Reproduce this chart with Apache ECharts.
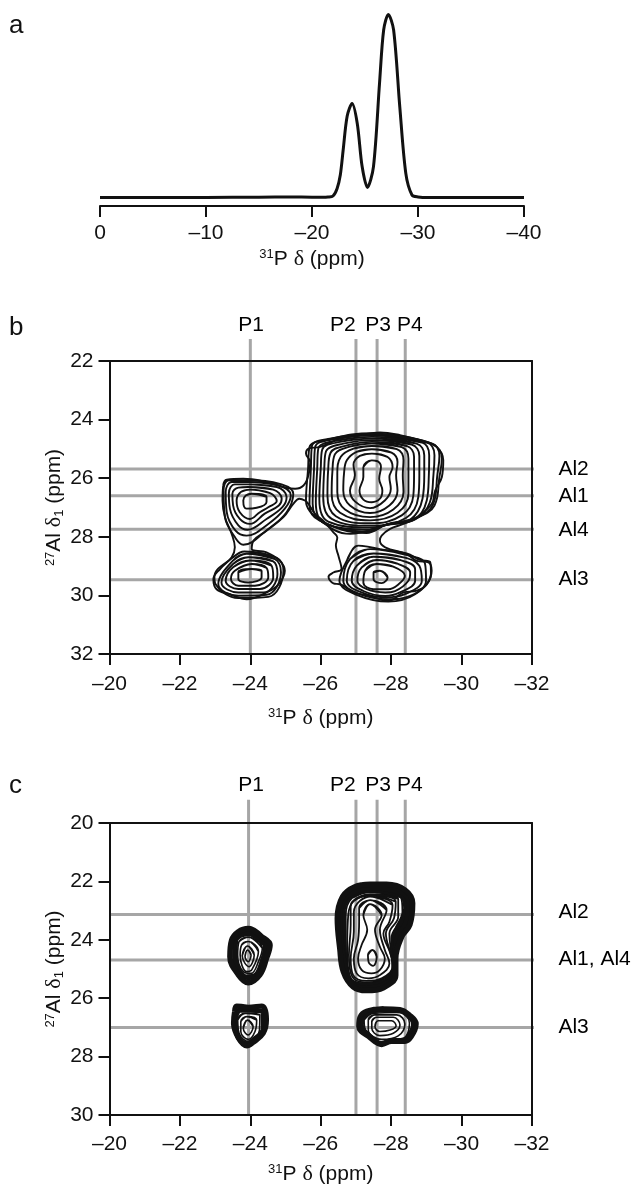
<!DOCTYPE html>
<html><head><meta charset="utf-8">
<style>html,body{margin:0;padding:0;background:#fff}#c{width:633px;height:1184px}</style>
<script src="https://cdn.jsdelivr.net/npm/echarts@6/dist/echarts.min.js"></script>
</head><body><div id="c"></div>
<script>
// Panel a: 1D spectrum
const spectrumPpm = [0,-5,-10,-15,-18,-20,-21,-21.5,-21.98,-22.37,-22.67,-22.94,-23.32,-23.78,-24.27,-24.73,-25.23,-25.8,-26.37,-26.76,-27.2,-27.7,-28.28,-28.85,-29.43,-30,-31,-35,-40];
const spectrumInt = [4.3,4.2,4.3,4.4,4.5,4.4,4.4,4.5,5,8.8,15.5,28,45,51.3,41.3,19.7,9.3,19.7,61.3,88,95.8,88,49.7,16.3,5.5,4.5,4.2,4.3,4.2];

// Panel b reference lines and labels
const bP = [-24,-27,-27.6,-28.4];
const bAl = [25.69,26.6,27.74,29.47];
const bPLabels = [['P1',-24.02],['P2',-26.63],['P3',-27.63],['P4',-28.53]];
const bAlLabels = [['Al2',25.68],['Al1',26.63],['Al4',27.78],['Al3',29.44]];
// Panel c reference lines and labels
const cP = [-23.95,-27,-27.6,-28.4];
const cAl = [23.13,24.69,27.0];
const cPLabels = [['P1',-24.02],['P2',-26.63],['P3',-27.63],['P4',-28.53]];
const cAlLabels = [['Al2',23.05],['Al1, Al4',24.65],['Al3',27.0]];

// Panel b contours, flat x,y pairs in ppm
const bOuter = [[-23.33,26.05,-23.80,26.02,-24.46,26.13,-24.94,26.30,-25.27,26.36,-25.51,26.25,-25.65,25.90,-25.70,25.45,-25.58,25.16,-25.65,24.99,-25.98,24.93,-26.55,24.65,-27.12,24.53,-27.68,24.44,-28.25,24.53,-28.82,24.71,-29.29,24.93,-29.48,25.39,-29.44,25.96,-29.25,26.42,-29.15,26.88,-28.73,27.33,-28.35,27.56,-27.97,27.73,-27.73,27.96,-27.68,28.13,-27.83,28.36,-28.44,28.59,-28.73,28.82,-29.06,28.87,-29.15,29.16,-29.01,29.62,-28.73,29.84,-28.35,29.90,-27.92,30.19,-27.40,30.02,-26.93,29.90,-26.55,29.62,-26.36,29.59,-26.22,29.36,-26.36,29.22,-26.59,29.10,-26.50,28.64,-26.43,28.30,-26.47,28.02,-26.36,27.85,-26.07,27.45,-25.84,27.22,-25.65,26.88,-25.55,26.76,-25.39,26.70,-25.22,26.88,-24.94,27.33,-24.46,27.79,-24.09,28.13,-24.04,28.42,-24.46,28.53,-24.84,28.82,-24.98,29.16,-24.80,29.62,-24.46,29.90,-23.90,30.13,-23.42,29.96,-23.04,29.79,-22.95,29.44,-23.14,29.10,-23.47,28.70,-23.56,28.36,-23.47,27.90,-23.28,27.33,-23.21,26.76,-23.23,26.25]];
const bMain = [
[-27.45,25.39,-27.61,25.42,-27.71,25.62,-27.66,26.02,-27.75,26.42,-27.68,26.70,-27.45,26.82,-27.21,26.73,-27.10,26.42,-27.21,25.96,-27.21,25.62],
[-27.45,25.16,-27.89,25.27,-28.04,25.62,-27.95,25.96,-27.99,26.36,-27.82,26.76,-27.40,27.02,-26.97,26.79,-26.83,26.42,-26.97,25.90,-26.93,25.54,-27.11,25.24],
[-27.45,25.01,-28.01,25.13,-28.18,25.45,-28.14,25.90,-28.18,26.42,-27.95,26.93,-27.40,27.19,-26.83,26.93,-26.64,26.42,-26.66,25.85,-26.74,25.39,-27.02,25.10],
[-27.45,24.90,-28.16,25.01,-28.35,25.39,-28.33,25.90,-28.35,26.47,-28.06,27.07,-27.40,27.33,-26.69,27.07,-26.47,26.47,-26.47,25.85,-26.57,25.27,-26.93,24.99],
[-27.45,24.82,-28.30,24.94,-28.49,25.33,-28.49,25.90,-28.49,26.53,-28.18,27.18,-27.40,27.44,-26.55,27.18,-26.31,26.53,-26.33,25.79,-26.40,25.19,-26.83,24.92],
[-27.45,24.76,-28.44,24.90,-28.65,25.27,-28.65,25.90,-28.63,26.59,-28.30,27.27,-27.40,27.54,-26.43,27.30,-26.19,26.59,-26.21,25.73,-26.28,25.13,-26.74,24.88],
[-27.45,24.70,-28.58,24.85,-28.80,25.24,-28.80,25.90,-28.77,26.65,-28.42,27.36,-27.40,27.62,-26.31,27.39,-26.07,26.65,-26.10,25.67,-26.15,25.08,-26.64,24.82],
[-27.45,24.65,-28.72,24.82,-28.94,25.22,-28.94,25.90,-28.89,26.70,-28.54,27.42,-27.89,27.59,-27.40,27.68,-26.21,27.48,-25.96,26.73,-26.00,25.67,-26.04,25.03,-26.55,24.76],
[-27.45,24.59,-28.87,24.78,-29.08,25.22,-29.07,25.90,-29.01,26.76,-28.63,27.43,-27.89,27.58,-27.40,27.75,-26.12,27.55,-25.86,26.82,-25.90,25.67,-25.93,24.99,-26.45,24.72],
[-27.45,24.54,-29.01,24.78,-29.23,25.22,-29.20,25.90,-29.10,26.82,-28.68,27.41,-27.89,27.57,-27.35,27.82,-26.03,27.48,-25.77,26.87,-25.81,25.67,-25.84,24.94,-26.36,24.67],
[-27.45,24.50,-29.15,24.81,-29.37,25.24,-29.31,25.90,-29.20,26.87,-28.72,27.36,-27.89,27.57,-27.30,27.87,-25.96,27.44,-25.68,26.93,-25.72,25.67,-25.75,24.90,-26.26,24.65],
[-27.45,24.46,-28.25,24.59,-29.20,24.85,-29.44,25.33,-29.37,25.96,-29.23,26.93,-28.74,27.34,-27.89,27.58,-26.83,27.90,-25.96,27.42,-25.58,26.76,-25.64,25.67,-25.68,24.94,-26.17,24.69]
];
const bLowerRight = [
[-27.68,29.16,-27.90,29.39,-27.73,29.58,-27.50,29.45,-27.50,29.22],
[-27.59,28.93,-28.06,29.02,-28.39,29.33,-28.21,29.62,-27.92,29.79,-27.50,29.79,-27.21,29.56,-27.26,29.16],
[-27.59,28.79,-28.16,28.91,-28.54,29.22,-28.49,29.50,-28.11,29.85,-27.83,29.90,-27.31,29.79,-27.04,29.50,-27.16,29.05],
[-27.50,28.68,-28.25,28.79,-28.68,29.10,-28.68,29.50,-28.25,29.90,-27.83,30.02,-27.21,29.85,-26.88,29.50,-27.02,28.99],
[-27.50,28.57,-28.35,28.70,-28.80,28.99,-28.87,29.50,-28.39,29.96,-27.87,30.07,-27.16,29.90,-26.74,29.50,-26.93,28.82],
[-27.40,28.42,-28.39,28.61,-28.96,28.91,-28.99,29.50,-28.54,30.02,-27.92,30.13,-27.07,29.94,-26.64,29.50,-26.83,28.76],
[-27.07,28.30,-27.68,28.42,-28.44,28.57,-28.82,28.79,-29.11,28.87,-29.13,29.27,-28.68,29.96,-27.92,30.21,-27.02,29.98,-26.53,29.50,-26.74,28.82]
];
const bUpperLeft = [
[-24.04,26.53,-24.46,26.64,-24.46,26.81,-24.18,27.01,-23.89,27.04,-23.80,26.76,-23.87,26.59],
[-23.99,26.39,-24.56,26.51,-24.75,26.78,-24.51,26.99,-24.27,27.16,-23.99,27.39,-23.70,27.16,-23.61,26.76,-23.73,26.47],
[-23.94,26.30,-24.65,26.39,-24.89,26.70,-24.81,26.93,-24.41,27.21,-23.99,27.56,-23.70,27.39,-23.51,26.93,-23.49,26.53,-23.66,26.32],
[-23.94,26.21,-24.75,26.30,-25.03,26.64,-24.91,26.99,-24.46,27.39,-23.92,27.76,-23.66,27.61,-23.42,27.04,-23.39,26.51,-23.56,26.21],
[-23.94,26.13,-24.79,26.24,-25.15,26.59,-24.98,27.04,-24.51,27.56,-23.89,27.96,-23.58,27.79,-23.33,27.16,-23.30,26.47,-23.47,26.13],
[-23.94,26.07,-24.89,26.21,-25.22,26.53,-25.03,27.16,-24.51,27.73,-23.80,28.27,-23.56,28.01,-23.28,27.33,-23.24,26.41,-23.39,26.07]
];
const bLowerLeft = [
[-24.04,29.10,-24.32,29.16,-24.32,29.38,-23.94,29.56,-23.66,29.44,-23.66,29.21],
[-24.04,28.93,-24.46,29.06,-24.51,29.38,-24.13,29.67,-23.66,29.67,-23.45,29.44,-23.56,29.16],
[-23.99,28.81,-24.60,28.98,-24.65,29.38,-24.27,29.78,-23.66,29.78,-23.30,29.50,-23.51,29.04],
[-23.94,28.70,-24.65,28.84,-24.77,29.27,-24.37,29.90,-23.66,29.90,-23.18,29.56,-23.51,28.93],
[-23.89,28.58,-24.70,28.76,-24.87,29.21,-24.46,29.98,-23.66,30.01,-23.09,29.61,-23.51,28.81],
[-23.83,28.50,-24.75,28.72,-24.94,29.16,-24.51,30.05,-23.66,30.09,-23.01,29.61,-22.98,29.36,-23.51,28.70]
];

// Panel c contours
const cMain = [
[-27.47,24.35,-27.59,24.58,-27.49,24.89,-27.36,24.77,-27.34,24.52],
[-27.40,22.78,-27.73,23.15,-27.54,23.66,-27.68,24.24,-27.82,24.64,-27.68,25.03,-27.44,25.15,-27.16,25.03,-27.06,24.64,-27.16,24.18,-27.32,23.66,-27.21,23.15],
[-27.40,22.64,-27.87,22.98,-27.68,23.66,-27.82,24.35,-27.95,24.81,-27.68,25.21,-27.35,25.32,-27.02,25.15,-26.94,24.64,-27.06,24.01,-27.09,23.38,-27.09,22.92],
[-27.40,22.52,-28.04,22.81,-27.95,23.38,-27.78,23.78,-27.96,24.41,-28.06,24.86,-27.73,25.32,-27.30,25.41,-26.92,25.21,-26.85,24.64,-26.94,23.72,-26.94,23.04,-27.11,22.67],
[-27.40,22.49,-28.13,22.69,-28.08,23.26,-27.85,23.78,-27.98,24.46,-28.06,24.95,-27.70,25.37,-27.25,25.46,-26.88,25.23,-26.80,24.52,-26.85,23.49,-26.85,22.86,-27.02,22.58],
[-27.40,22.44,-28.20,22.60,-28.20,23.21,-27.95,23.78,-28.01,24.52,-28.06,25.03,-27.68,25.41,-27.21,25.49,-26.83,25.26,-26.75,24.35,-26.78,23.15,-26.94,22.67],
[-27.40,22.37,-28.27,22.53,-28.32,23.04,-28.11,23.66,-28.04,24.52,-28.08,25.07,-27.70,25.46,-27.21,25.54,-26.81,25.32,-26.71,24.35,-26.71,23.15,-26.88,22.58]
];
const cMainBand = [
[-27.40,22.29,-28.30,22.49,-28.42,22.92,-28.30,23.38,-28.06,23.95,-28.08,24.75,-28.08,25.09,-27.73,25.49,-27.21,25.57,-26.78,25.34,-26.66,24.35,-26.62,23.15,-26.83,22.49],
[-27.40,22.20,-28.34,22.39,-28.51,22.83,-28.42,23.44,-28.18,23.92,-28.11,24.69,-28.11,25.15,-27.76,25.56,-27.25,25.66,-26.85,25.47,-26.60,24.32,-26.54,23.21,-26.73,22.50],
[-27.40,22.10,-27.87,22.10,-28.39,22.29,-28.61,22.75,-28.53,23.49,-28.30,23.89,-28.13,24.64,-28.13,25.21,-27.78,25.64,-27.30,25.74,-26.92,25.61,-26.64,25.09,-26.54,24.29,-26.47,23.26,-26.62,22.52,-26.97,22.18]
];
const cUpperLeft = [
[-23.92,24.35,-24.02,24.52,-23.94,24.75,-23.85,24.58],
[-23.92,24.21,-24.11,24.52,-23.96,24.92,-23.77,24.55],
[-23.94,24.06,-24.23,24.40,-24.04,25.03,-23.90,25.09,-23.71,24.52,-23.75,24.18],
[-23.94,23.91,-24.34,24.29,-24.23,24.75,-24.02,25.15,-23.80,25.09,-23.64,24.52,-23.68,24.06]
];
const cUpperLeftBand = [
[-23.94,23.78,-24.44,24.18,-24.34,24.75,-24.13,25.24,-23.90,25.28,-23.56,24.58,-23.58,24.01,-23.73,23.83],
[-23.94,23.61,-24.32,23.89,-24.56,24.18,-24.46,24.63,-24.27,25.20,-23.94,25.47,-23.66,25.20,-23.42,24.58,-23.47,24.01,-23.66,23.72]
];
const cLowerLeft = [
[-23.92,26.75,-24.08,26.97,-23.94,27.26,-23.80,27.03],
[-23.90,26.63,-24.18,26.75,-24.13,27.15,-23.94,27.41,-23.73,27.15,-23.73,26.80],
[-23.85,26.52,-24.27,26.57,-24.26,27.09,-23.96,27.49,-23.68,27.20,-23.64,26.75]
];
const cLowerLeftBand = [
[-23.71,26.40,-24.35,26.43,-24.37,27.03,-24.06,27.45,-23.87,27.55,-23.61,27.20,-23.58,26.69],
[-23.61,26.27,-23.94,26.31,-24.32,26.27,-24.46,26.75,-24.37,27.20,-24.08,27.52,-23.90,27.64,-23.66,27.37,-23.52,26.86,-23.55,26.46]
];
const cLowerRight = [
[-27.63,26.77,-28.01,26.77,-28.14,26.95,-27.97,27.09,-27.68,27.14,-27.54,26.97],
[-27.59,26.65,-28.06,26.65,-28.25,26.92,-28.06,27.20,-27.68,27.28,-27.45,27.03,-27.45,26.80],
[-27.54,26.57,-28.16,26.57,-28.39,26.88,-28.20,27.29,-27.73,27.41,-27.35,27.09,-27.35,26.75],
[-27.49,26.52,-28.25,26.49,-28.52,26.86,-28.35,27.37,-27.99,27.41,-27.73,27.51,-27.30,27.17,-27.23,26.75]
];
const cLowerRightBand = [
[-27.40,26.47,-27.82,26.40,-28.25,26.44,-28.50,26.63,-28.63,26.88,-28.49,27.29,-28.35,27.43,-27.99,27.45,-27.73,27.54,-27.40,27.29,-27.16,26.92,-27.21,26.65],
[-27.30,26.43,-27.78,26.35,-28.25,26.38,-28.53,26.57,-28.72,26.88,-28.58,27.32,-28.39,27.49,-28.01,27.49,-27.73,27.60,-27.40,27.37,-27.07,26.97,-27.11,26.63]
];

const FONT = '"Liberation Sans", Arial, sans-serif';
const INK = '#111', GRAY = '#a6a6a6', TXT = '#111';
const fs = 21;
const minus = v => String(v).replace('-', '\u2013');
const rich = {sup:{fontSize:13,fontFamily:FONT,color:TXT,verticalAlign:'top',lineHeight:22,padding:[0,0,8,0]},
              sub:{fontSize:13,fontFamily:FONT,color:TXT,verticalAlign:'bottom',lineHeight:22,padding:[8,0,0,0]},
              d:{fontSize:22,fontFamily:'"Liberation Serif", serif',color:TXT}};
const nameStyle = {fontSize:fs,fontFamily:FONT,color:TXT,rich};

function xBottom(g,min,max,interval,gap,margin){return {gridIndex:g,type:'value',position:'bottom',inverse:true,min,max,interval,
  name:'{sup|31}P {d|\u03b4} (ppm)',nameLocation:'middle',nameGap:gap,nameMoveOverlap:false,nameTextStyle:nameStyle,splitLine:{show:false},z:3,
  axisLine:{onZero:false,lineStyle:{color:INK,width:2}},axisTick:{length:11,lineStyle:{color:INK,width:2}},
  axisLabel:{margin:margin,fontSize:fs,fontFamily:FONT,color:TXT,formatter:minus,hideOverlap:false,showMinLabel:true,showMaxLabel:true}};}
function xTop(g,min,max){return {gridIndex:g,type:'value',position:'top',inverse:true,min,max,splitLine:{show:false},z:3,
  axisLine:{onZero:false,lineStyle:{color:INK,width:2}},axisTick:{show:false},axisLabel:{show:false}};}
function yLeft(g,min,max){return {gridIndex:g,type:'value',position:'left',inverse:true,min,max,interval:2,
  name:'{sup|27}Al {d|\u03b4}{sub|1} (ppm)',nameLocation:'middle',nameGap:44,nameMoveOverlap:false,nameTextStyle:nameStyle,splitLine:{show:false},z:3,
  axisLine:{onZero:false,lineStyle:{color:INK,width:2}},axisTick:{length:11,lineStyle:{color:INK,width:2}},
  axisLabel:{margin:16,fontSize:fs,fontFamily:FONT,color:TXT,showMinLabel:true,showMaxLabel:true}};}
function yRight(g,min,max){return {gridIndex:g,type:'value',position:'right',inverse:true,min,max,splitLine:{show:false},z:3,
  axisLine:{onZero:false,lineStyle:{color:INK,width:2}},axisTick:{show:false},axisLabel:{show:false}};}

const series = [];
function base(xi,yi){return {type:'line',xAxisIndex:xi,yAxisIndex:yi,symbol:'none',silent:true,animation:false};}
function contours(list,xi,yi,width){
  list.forEach(flat=>{
    const pts=[];
    for(let i=0;i<flat.length;i+=2) pts.push([flat[i],flat[i+1]]);
    // wrap both ends so the smooth closed curve has no seam
    const closed=[pts[pts.length-1],...pts,pts[0],pts[1]];
    series.push(Object.assign(base(xi,yi),{data:closed,smooth:0.4,z:4,lineStyle:{color:INK,width:width}}));
  });
}
function refLines(ps,als,yTopVal,yBottomVal,xi,yi){
  ps.forEach(p=>series.push(Object.assign(base(xi,yi),{data:[[p,yTopVal],[p,yBottomVal]],clip:false,z:1,lineStyle:{color:GRAY,width:3}})));
  als.forEach(a=>series.push(Object.assign(base(xi,yi),{data:[[-20,a],[-32.65,a]],clip:false,z:1,lineStyle:{color:GRAY,width:3}})));
}
function labels(pl,yVal,al,xVal,xi,yi){
  const mk=(arr)=>({type:'scatter',xAxisIndex:xi,yAxisIndex:yi,clip:false,silent:true,animation:false,symbolSize:0,itemStyle:{color:'#fff'},z:5,data:arr});
  const top=mk(pl.map(p=>({value:[p[1],yVal],name:p[0]})));
  top.label={show:true,position:'inside',formatter:'{b}',fontSize:fs,fontFamily:FONT,color:'#000',opacity:1};
  const right=mk(al.map(a=>({value:[xVal,a[1]],name:a[0]})));
  right.label={show:true,position:'right',distance:0,formatter:'{b}',fontSize:fs,fontFamily:FONT,color:'#000',opacity:1};
  series.push(top,right);
}

// a
series.push(Object.assign(base(0,0),{data:spectrumPpm.map((x,i)=>[x,spectrumInt[i]]),smooth:0.3,z:4,lineStyle:{color:INK,width:3}}));
// b
refLines(bP,bAl,21.25,32,1,1);
labels(bPLabels,20.77,bAlLabels,-32.75,1,1);
contours(bOuter,1,1,1.9);
contours(bMain,1,1,1.9);
contours(bLowerRight,1,1,1.9);
contours(bUpperLeft,1,1,1.9);
contours(bLowerLeft,1,1,1.9);
// c
refLines(cP,cAl,19.2,30,3,3);
labels(cPLabels,18.7,cAlLabels,-32.75,3,3);
contours(cMain,3,3,1.8);
contours(cMainBand,3,3,5.5);
contours(cUpperLeft,3,3,1.6);
contours(cUpperLeftBand,3,3,5.5);
contours(cLowerLeft,3,3,1.6);
contours(cLowerLeftBand,3,3,5);
contours(cLowerRight,3,3,1.6);
contours(cLowerRightBand,3,3,4.5);

const letter = (t,x,y)=>({type:'text',left:x,top:y,style:{text:t,font:'26px '+FONT,fill:TXT}});
const chart = echarts.init(document.getElementById('c'),null,{renderer:'canvas'});
const gridBase = {outerBoundsMode:'none',containLabel:false};
chart.setOption({
  backgroundColor:'#fff',animation:false,
  graphic:[letter('a',9,13),letter('b',9,315),letter('c',9,773)],
  grid:[Object.assign({left:100,top:6,width:424,height:200},gridBase),
        Object.assign({left:109.5,top:361,width:422.5,height:293},gridBase),
        Object.assign({left:109.5,top:823,width:422.5,height:292},gridBase)],
  xAxis:[
    xBottom(0,-40,0,10,42,17),
    xBottom(1,-32,-20,2,53,20),xTop(1,-32,-20),
    xBottom(2,-32,-20,2,48,19),xTop(2,-32,-20)
  ],
  yAxis:[
    {gridIndex:0,type:'value',min:0,max:100,show:false},
    yLeft(1,22,32),yRight(1,22,32),
    yLeft(2,20,30),yRight(2,20,30)
  ],
  series
});
</script></body></html>
